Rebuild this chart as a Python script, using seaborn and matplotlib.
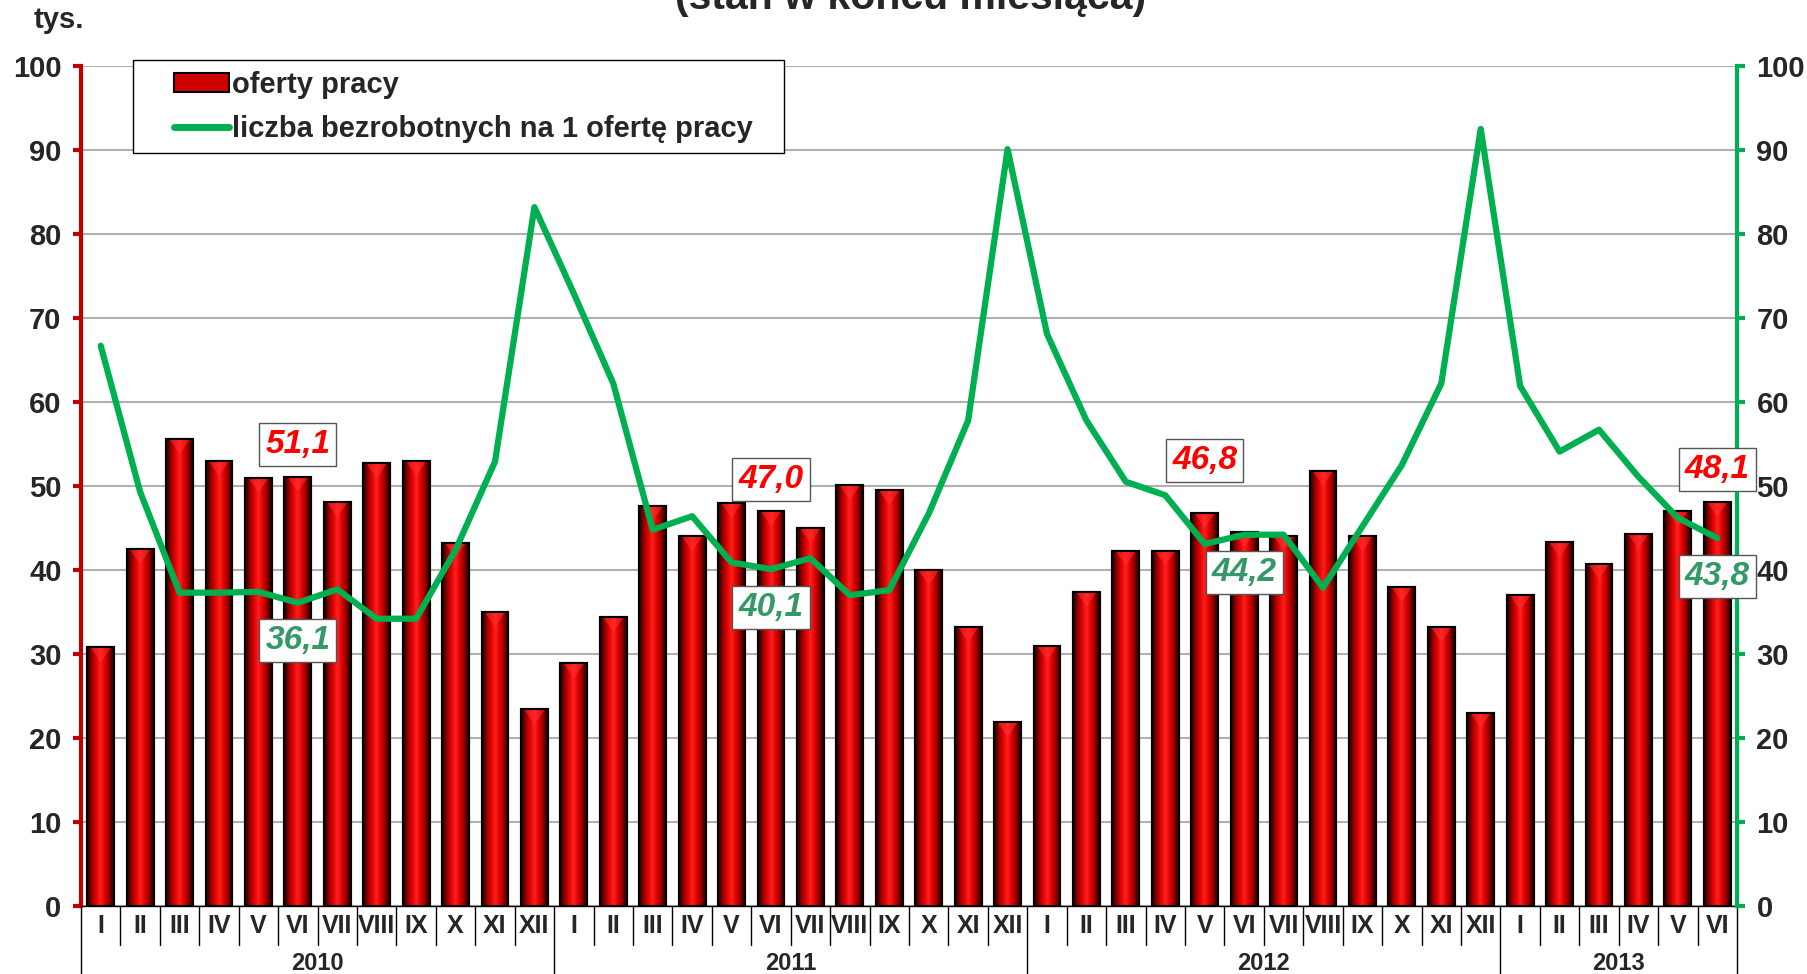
import numpy as np
import pandas as pd
import seaborn as sns
import matplotlib.pyplot as plt
import matplotlib.transforms as mtransforms
from matplotlib.colors import LinearSegmentedColormap
from matplotlib.patches import Patch, Rectangle
from matplotlib.lines import Line2D

# data
months = ["I", "II", "III", "IV", "V", "VI", "VII", "VIII", "IX", "X", "XI", "XII"]
years = ["2010", "2011", "2012", "2013"]
months_per_year = [12, 12, 12, 6]

oferty = [30.8, 42.5, 55.6, 53.0, 51.0, 51.1, 48.1, 52.7, 53.0, 43.2, 35.0, 23.4,
          28.9, 34.4, 47.6, 44.0, 48.0, 47.0, 45.0, 50.1, 49.5, 40.0, 33.2, 21.9,
          31.0, 37.4, 42.3, 42.3, 46.8, 44.5, 44.1, 51.8, 44.0, 38.0, 33.2, 23.0,
          37.0, 43.3, 40.7, 44.3, 47.0, 48.1]
bezrobotni = [66.7, 49.3, 37.3, 37.3, 37.4, 36.1, 37.7, 34.2, 34.2, 42.4, 52.9, 83.2,
              72.9, 62.2, 44.8, 46.4, 40.9, 40.1, 41.4, 37.0, 37.6, 46.7, 57.8, 90.1,
              68.1, 57.8, 50.5, 48.9, 43.1, 44.2, 44.2, 37.9, 45.2, 52.5, 62.2, 92.5,
              61.9, 54.1, 56.7, 51.1, 46.2, 43.8]

# labelled points (index into the series)
bar_labels = [5, 17, 28, 41]
line_labels = [5, 17, 29, 41]

n = len(oferty)
df = pd.DataFrame({"idx": np.arange(n), "oferty": oferty, "bezrobotni": bezrobotni})

sns.set_style("white")
plt.rcParams["font.family"] = ["Liberation Sans", "DejaVu Sans"]
plt.rcParams["font.weight"] = "bold"

RED = "#c00000"
GREEN = "#00b050"
LBL_GREEN = "#339966"

fig = plt.figure(figsize=(18.08, 9.74), dpi=100)
ax = fig.add_axes([81 / 1808, 1 - 906 / 974, (1737 - 81) / 1808, (906 - 66) / 974])

sns.barplot(data=df, x="idx", y="oferty", color="#d00000", width=0.68,
            edgecolor="black", linewidth=1.5, ax=ax, zorder=2)

# fake 3D shading on the bars
cmap = LinearSegmentedColormap.from_list(
    "bar", ["#1a0000", "#8a0000", "#e00000", "#ff2020", "#e00000", "#8a0000", "#1a0000"])
grad = np.linspace(0, 1, 128)[None, :]
for p in list(ax.patches):
    x0, y0, w, h = p.get_x(), p.get_y(), p.get_width(), p.get_height()
    im = ax.imshow(grad, cmap=cmap, extent=[x0, x0 + w, y0, y0 + h],
                   aspect="auto", zorder=2.1, interpolation="bilinear")
    im.set_clip_path(p)
    tri = plt.Polygon([[x0 + 0.08, y0 + h], [x0 + w - 0.08, y0 + h], [x0 + w / 2, y0 + h - 1.8]],
                      closed=True, facecolor="#ff3030", edgecolor="none", alpha=0.55, zorder=2.2)
    ax.add_patch(tri)
    ax.add_patch(Rectangle((x0, y0), w, h, fill=False, edgecolor="black", lw=1.5, zorder=2.3))

ax.set_xlim(-0.5, n - 0.5)
ax.set_ylim(0, 100)
ax.set_aspect("auto")
ax.set_yticks(range(0, 101, 10))
ax.yaxis.grid(True, color="#b0b0b0", lw=1.5)
ax.set_axisbelow(True)
ax.set_xticks([])
ax.set_xlabel("")
ax.set_ylabel("")
ax.tick_params(axis="y", direction="out", length=6, width=3, color=RED,
               labelsize=21, pad=8)
for lab in ax.get_yticklabels():
    lab.set_fontweight("bold")
ax.spines["top"].set_visible(False)
ax.spines["right"].set_visible(False)
ax.spines["left"].set_color(RED)
ax.spines["left"].set_linewidth(3)
ax.spines["bottom"].set_color("black")
ax.spines["bottom"].set_linewidth(1)

ax2 = ax.twinx()
sns.lineplot(data=df, x="idx", y="bezrobotni", color=GREEN, lw=4.5, ax=ax2,
             solid_joinstyle="round", solid_capstyle="round", zorder=3)
ax2.set_ylim(0, 100)
ax2.set_xlim(-0.5, n - 0.5)
ax2.set_yticks(range(0, 101, 10))
ax2.set_xlabel("")
ax2.set_ylabel("")
ax2.tick_params(axis="y", direction="out", length=6, width=3, color=GREEN,
                labelsize=21, pad=8)
for lab in ax2.get_yticklabels():
    lab.set_fontweight("bold")
for s in ["top", "left", "bottom"]:
    ax2.spines[s].set_visible(False)
ax2.spines["right"].set_color(GREEN)
ax2.spines["right"].set_linewidth(3)

# value boxes
for i in bar_labels:
    ax2.annotate(f"{oferty[i]:.1f}".replace(".", ","), (i, oferty[i]),
                 xytext=(0, 32 if i != 28 else 52), textcoords="offset pixels",
                 ha="center", va="center", fontsize=24, fontweight="bold",
                 fontstyle="italic", color="#ff0000", zorder=5, annotation_clip=False,
                 bbox=dict(boxstyle="square,pad=0.18", fc="white", ec="#555555", lw=1))
for i in line_labels:
    ax2.annotate(f"{bezrobotni[i]:.1f}".replace(".", ","), (i, bezrobotni[i]),
                 xytext=(0, -38), textcoords="offset pixels",
                 ha="center", va="center", fontsize=24, fontweight="bold",
                 fontstyle="italic", color=LBL_GREEN, zorder=5, annotation_clip=False,
                 bbox=dict(boxstyle="square,pad=0.18", fc="white", ec="#555555", lw=1))

# two-level category axis
trans = mtransforms.blended_transform_factory(ax.transData, ax.transAxes)
for i in range(n):
    ax.text(i, -0.024, months[i % 12], transform=trans, ha="center", va="center",
            fontsize=18, fontweight="bold")
year_edges = np.concatenate([[0], np.cumsum(months_per_year)])
for i in range(n + 1):
    bottom = -0.09 if i in year_edges else -0.047
    ax.plot([i - 0.5, i - 0.5], [0, bottom], transform=trans, color="black",
            lw=1, clip_on=False)
for k, y in enumerate(years):
    mid = (year_edges[k] + year_edges[k + 1] - 1) / 2
    ax.text(mid, -0.069, y, transform=trans, ha="center", va="center",
            fontsize=17, fontweight="bold")

# legend: own frame (wide side padding), legend itself frameless on top
fig.patches.append(Rectangle((133 / 1808, 1 - 153 / 974), 651 / 1808, 93 / 974,
                             transform=fig.transFigure, facecolor="white",
                             edgecolor="black", lw=1, zorder=4))
handles = [Patch(facecolor="#d00000", edgecolor="black", lw=1.5),
           Line2D([0], [0], color=GREEN, lw=5, solid_capstyle="round")]
leg = fig.legend(handles, ["oferty pracy", "liczba bezrobotnych na 1 ofertę pracy"],
                 loc="upper left", bbox_to_anchor=(165 / 1808, 1 - 62 / 974),
                 frameon=False, prop={"size": 21, "weight": "bold"},
                 handlelength=1.9, handleheight=0.6, handletextpad=0.1,
                 labelspacing=0.55, borderpad=0.3, borderaxespad=0)
leg.set_zorder(5)

fig.text(59 / 1808, 1 - 20 / 974, "tys.", ha="center", va="center",
         fontsize=21, fontweight="bold")
fig.text(911 / 1808, 1 - 9 / 974, "(stan w końcu miesiąca)", ha="center",
         va="baseline", fontsize=29.5, fontweight="bold")

fig.savefig("out.png", dpi=100)
